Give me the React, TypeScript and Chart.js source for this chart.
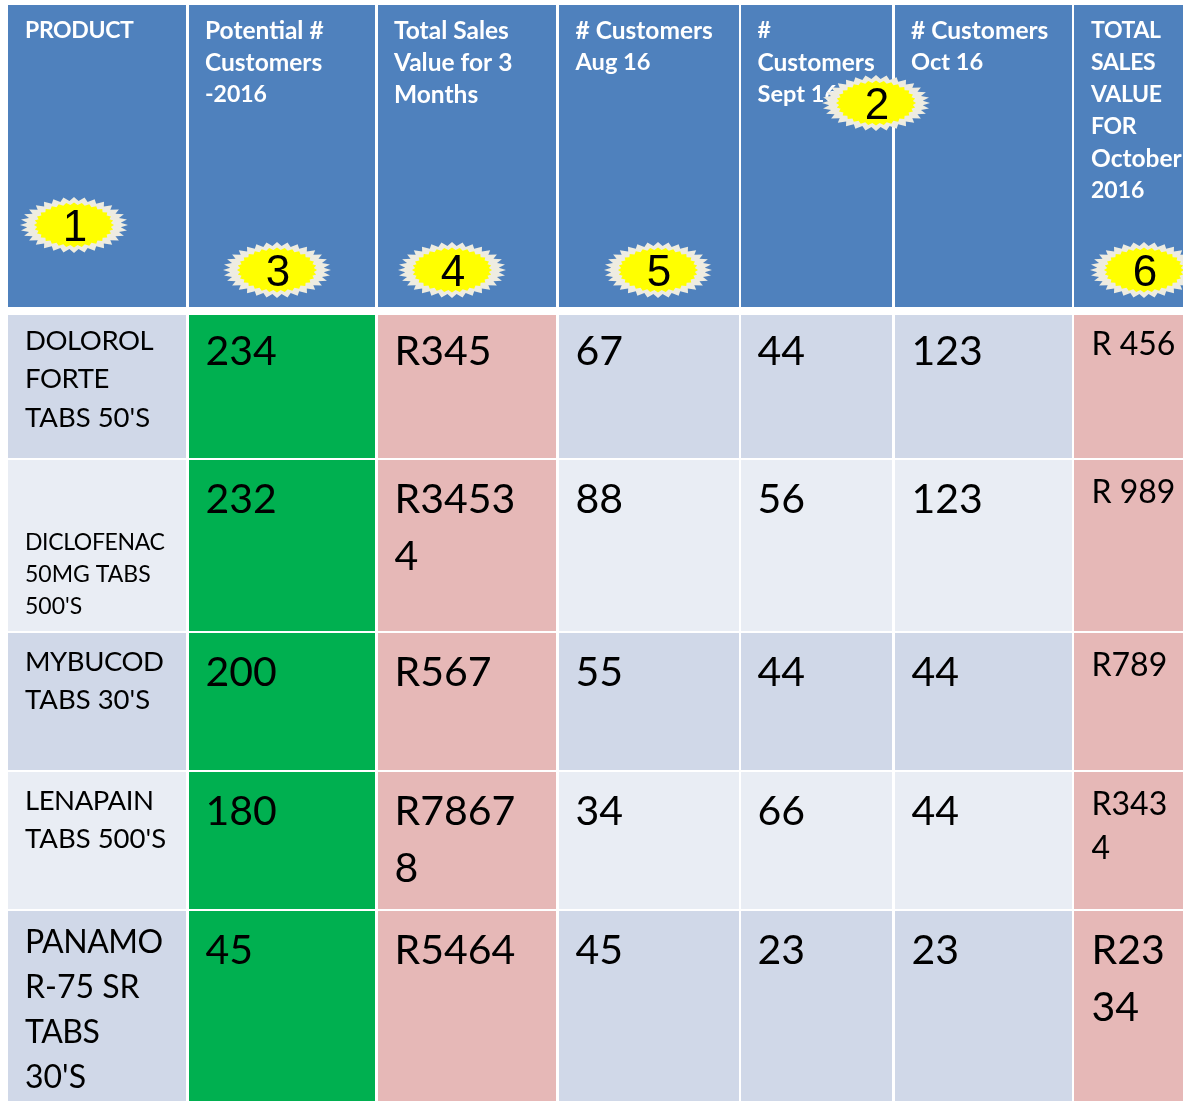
import React, { useEffect, useRef } from "react";
import { Chart, registerables } from "chart.js";

Chart.register(...registerables);

// ---- table content ----
const headers = [
  "PRODUCT",
  "Potential #\nCustomers\n-2016",
  "Total Sales\nValue for 3\nMonths",
  "# Customers\nAug 16",
  "#\nCustomers\nSept 16",
  "# Customers\nOct 16",
  "TOTAL\nSALES\nVALUE\nFOR\nOctober\n2016",
];
const products = [
  "DOLOROL\nFORTE\nTABS 50'S",
  "DICLOFENAC\n50MG TABS\n500'S",
  "MYBUCOD\nTABS 30'S",
  "LENAPAIN\nTABS 500'S",
  "PANAMO\nR-75 SR\nTABS\n30'S",
];
const potentialCustomers = ["234", "232", "200", "180", "45"];
const totalSales3Months = ["R345", "R3453\n4", "R567", "R7867\n8", "R5464"];
const customersAug = ["67", "88", "55", "34", "45"];
const customersSept = ["44", "56", "44", "66", "23"];
const customersOct = ["123", "123", "44", "44", "23"];
const totalSalesOct = ["R 456", "R 989", "R789", "R343\n4", "R23\n34"];
const badgeNumbers = ["1", "2", "3", "4", "5", "6"];

// ---- layout in axis units ----
const colStart = [8, 189, 378, 559, 741, 895, 1074];
const colEnd = [186, 375, 556, 739, 892, 1072, 1190];
const headerBand = [5, 307];
const rowStart = [315, 460, 633, 772, 911];
const rowEnd = [458, 631, 770, 909, 1110];
const headerTextX = [25, 205, 394, 575.5, 757.5, 911, 1091];
const cellTextX = [25, 205.5, 394.5, 575.5, 757.5, 911.5, 1091.5];
const valueLineY = [349.8, 497.8, 670.8, 809.8, 948.8];
const labelStyle = [
  { y: 340, gap: 38.5, size: 27.5 },
  { y: 542, gap: 32, size: 23 },
  { y: 661, gap: 38, size: 27.5 },
  { y: 800, gap: 38, size: 27.5 },
  { y: 941, gap: 45, size: 32 },
];
const lastStyle = [
  { y: 343, gap: 44, size: 32 },
  { y: 491, gap: 44, size: 32 },
  { y: 664, gap: 44, size: 32 },
  { y: 803, gap: 44, size: 32 },
  { y: 948.8, gap: 57, size: 41 },
];
const badgeX = [74, 876, 277, 452, 658, 1144];
const badgeY = [225, 103, 270, 270, 270, 270];
const badgeTextX = [75, 877, 278, 453, 659, 1145];

const BLUE = "#4F81BD";
const ROW_DARK = "#D0D8E8";
const ROW_LIGHT = "#E9EDF4";
const GREEN = "#00B050";
const PINK = "#E6B8B7";
const FONT = "Lato, Carlito, sans-serif";

function burstPath(g: CanvasRenderingContext2D, cx: number, cy: number, rxO: number, ryO: number, rxI: number, ryI: number) {
  const spikes = 32;
  g.beginPath();
  for (let i = 0; i < spikes * 2; i++) {
    const a = (i * Math.PI) / spikes - Math.PI / 2;
    const rx = i % 2 === 0 ? rxO : rxI;
    const ry = i % 2 === 0 ? ryO : ryI;
    const px = cx + rx * Math.cos(a);
    const py = cy + ry * Math.sin(a);
    if (i === 0) g.moveTo(px, py);
    else g.lineTo(px, py);
  }
  g.closePath();
}

function makeBurst(): HTMLCanvasElement {
  const c = document.createElement("canvas");
  c.width = 112;
  c.height = 60;
  const g = c.getContext("2d")!;
  burstPath(g, 56, 30, 54, 28, 47, 24);
  g.fillStyle = "#EEECE1";
  g.fill();
  burstPath(g, 56, 30, 40, 22.5, 37, 20);
  g.fillStyle = "#FFFF00";
  g.fill();
  return c;
}

const tablePlugin = {
  id: "tableCells",
  beforeDatasetsDraw(chart: any) {
    const { ctx, scales } = chart;
    const X = scales.x;
    const Y = scales.y;
    const rect = (x0: number, x1: number, y0: number, y1: number, color: string) => {
      const l = X.getPixelForValue(x0);
      const r = X.getPixelForValue(x1);
      const t = Y.getPixelForValue(y0);
      const b = Y.getPixelForValue(y1);
      ctx.fillStyle = color;
      ctx.fillRect(l, t, r - l, b - t);
    };
    const drawLine = (line: string, x: number, y: number, size: number, spacing: number, color: string, bold: boolean) => {
      ctx.font = `${bold ? "bold " : ""}${size}px ${FONT}`;
      ctx.letterSpacing = `${spacing}px`;
      ctx.fillStyle = color;
      ctx.textAlign = "left";
      ctx.textBaseline = "alphabetic";
      ctx.fillText(line, X.getPixelForValue(x), Y.getPixelForValue(y) + size * 0.36);
    };
    const headerText = (s: string, x: number) => {
      s.split("\n").forEach((line, i) => {
        const hasLower = /[a-z]/.test(line);
        const hasYear = /\d\d$/.test(line);
        const hasUpperOnly = /^[A-Z]+$/.test(line);
        const size = hasLower ? (hasYear ? 23.6 : 24.5) : 23;
        drawLine(line, x, 30 + i * 32, size, hasUpperOnly ? -0.35 : 0, "#FFFFFF", true);
      });
    };
    const bodyText = (s: string, x: number, y: number, gap: number, size: number) => {
      s.split("\n").forEach((line, i) => {
        const spacing = /^[A-Z]+$/.test(line) ? -0.016 * size : 0;
        drawLine(line, x, y + i * gap, size, spacing, "#000000", false);
      });
    };
    ctx.save();
    const columns = [products, potentialCustomers, totalSales3Months, customersAug, customersSept, customersOct, totalSalesOct];
    columns.forEach((col, c) => {
      rect(colStart[c], colEnd[c], headerBand[0], headerBand[1], BLUE);
      headerText(headers[c], headerTextX[c]);
      col.forEach((value, r) => {
        const band = r % 2 === 0 ? ROW_DARK : ROW_LIGHT;
        const fill = c === 1 ? GREEN : c === 2 || c === 6 ? PINK : band;
        rect(colStart[c], colEnd[c], rowStart[r], rowEnd[r], fill);
        if (c === 0) {
          const s = labelStyle[r];
          bodyText(value, cellTextX[c], s.y, s.gap, s.size);
        } else if (c === 6) {
          const s = lastStyle[r];
          bodyText(value, cellTextX[c], s.y, s.gap, s.size);
        } else {
          bodyText(value, cellTextX[c], valueLineY[r], 57, 41);
        }
      });
    });
    ctx.letterSpacing = "0px";
    ctx.restore();
  },
  afterDatasetsDraw(chart: any) {
    const { ctx, scales } = chart;
    ctx.save();
    ctx.font = "44px 'Liberation Sans', Arial, sans-serif";
    ctx.fillStyle = "#000000";
    ctx.textAlign = "center";
    ctx.textBaseline = "alphabetic";
    badgeNumbers.forEach((n, i) => {
      ctx.fillText(n, scales.x.getPixelForValue(badgeTextX[i]), scales.y.getPixelForValue(badgeY[i]) + 16);
    });
    ctx.restore();
  },
};

export default function App() {
  const ref = useRef<HTMLCanvasElement>(null);
  useEffect(() => {
    document.body.style.margin = "0";
    document.body.style.background = "#FFFFFF";
    const chart = new Chart(ref.current!, {
      type: "scatter",
      data: {
        datasets: [
          {
            label: "badges",
            data: badgeX.map((x, i) => ({ x, y: badgeY[i] })),
            pointStyle: makeBurst() as any,
            pointRadius: 30,
            clip: false as any,
          },
        ],
      },
      options: {
        animation: false,
        responsive: false,
        layout: { padding: 0, autoPadding: false },
        plugins: { legend: { display: false }, tooltip: { enabled: false }, title: { display: false } },
        scales: {
          x: { type: "linear", min: 0, max: 1183, display: false },
          y: { type: "linear", min: 0, max: 1101, reverse: true, display: false },
        },
      },
      plugins: [tablePlugin],
    });
    return () => chart.destroy();
  }, []);
  return (
    <div style={{ position: "absolute", left: 0, top: 0, width: 1183, height: 1101 }}>
      <canvas ref={ref} width={1183} height={1101} style={{ display: "block" }} />
    </div>
  );
}
